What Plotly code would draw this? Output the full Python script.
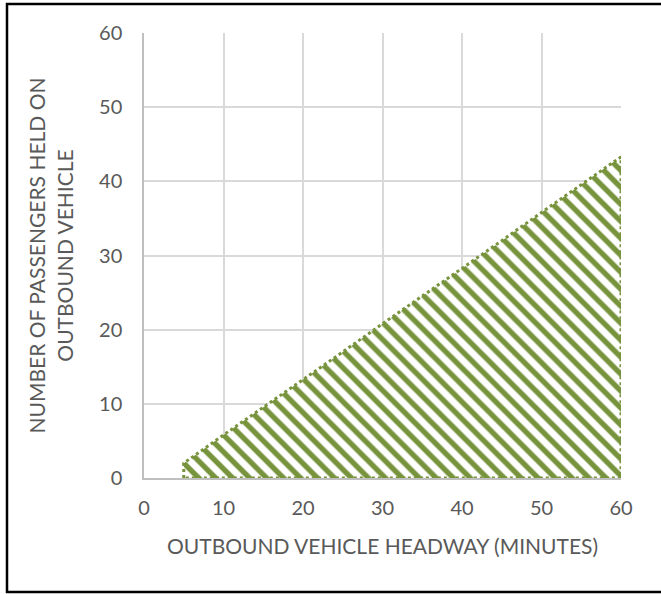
import plotly.graph_objects as go

# Outbound headway (minutes) and the upper bound on passengers held
headway = [5, 10, 15, 20, 25, 30, 35, 40, 45, 50, 55, 60]
passengers_held = [2.0, 5.8, 9.5, 13.3, 17.0, 20.8, 24.5, 28.3, 32.0, 35.8, 39.5, 43.3]

x_ticks = [0, 10, 20, 30, 40, 50, 60]
y_ticks = [0, 10, 20, 30, 40, 50, 60]

GREEN = "#77933C"
TEXT = "#595959"
FONT = "Lato, Open Sans, sans-serif"

# Closed region: along the bound, then down to the x axis and back
poly_x = [headway[0]] + headway + [headway[-1], headway[0]]
poly_y = [0] + passengers_held + [0, 0]

fig = go.Figure()
fig.add_trace(go.Scatter(
    x=poly_x, y=poly_y,
    mode="lines",
    fill="toself",
    fillcolor="rgba(0,0,0,0)",
    fillpattern=dict(shape="\\", fgcolor=GREEN, fgopacity=1, bgcolor="white",
                     size=12, solidity=0.45),
    line=dict(color=GREEN, width=3, dash="dot"),
    hoverinfo="skip",
    showlegend=False,
))

fig.update_xaxes(
    range=[0, 60], tickvals=x_ticks, ticktext=[str(v) for v in x_ticks],
    showgrid=True, gridcolor="#d9d9d9", gridwidth=1.5,
    showline=True, linecolor="#bfbfbf", linewidth=1.5,
    zeroline=False, ticks="", ticklabelstandoff=11,
    tickfont=dict(family=FONT, size=20, color=TEXT),
    title=dict(text="OUTBOUND VEHICLE HEADWAY (MINUTES)",
               font=dict(family=FONT, size=21, color=TEXT), standoff=22),
)
fig.update_yaxes(
    range=[0, 60], tickvals=y_ticks, ticktext=[str(v) for v in y_ticks],
    showgrid=True, gridcolor="#d9d9d9", gridwidth=1.5,
    showline=True, linecolor="#bfbfbf", linewidth=1.5,
    zeroline=False, ticks="", ticklabelstandoff=16,
    tickfont=dict(family=FONT, size=20, color=TEXT),
    title=dict(text="NUMBER OF PASSENGERS HELD ON<br>OUTBOUND VEHICLE",
               font=dict(family=FONT, size=21, color=TEXT), standoff=20),
)

# Frame around the whole chart
fig.add_shape(type="rect", xref="paper", yref="paper",
              x0=(7 - 144) / 477, x1=(670 - 144) / 477,
              y0=(478 - 592) / 445, y1=(478 - 4) / 445,
              line=dict(color="black", width=2.5), layer="below")

fig.update_layout(
    width=661, height=594,
    margin=dict(l=144, r=40, t=33, b=116),
    plot_bgcolor="white", paper_bgcolor="white",
)

fig.write_html("out.html")
